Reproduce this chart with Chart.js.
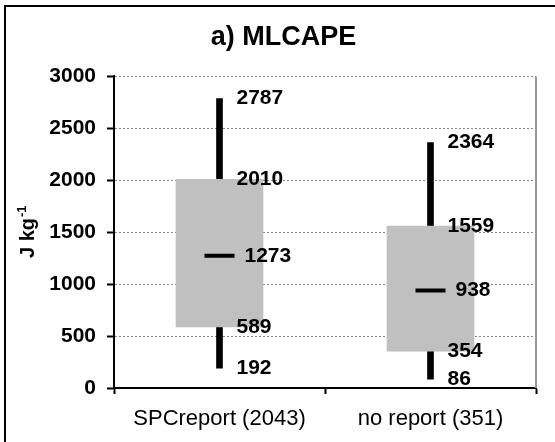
<!DOCTYPE html>
<html>
<head>
<meta charset="utf-8">
<script src="https://cdn.jsdelivr.net/npm/chart.js@4/dist/chart.umd.min.js"></script>
<style>
  body { margin: 0; background: #fff; }
  #wrap { position: relative; width: 555px; height: 442px; overflow: hidden; }
  #frame { position: absolute; left: 4px; top: 5px; width: 600px; height: 500px;
           border-left: 2px solid #000; border-top: 2px solid #000; pointer-events: none; }
  canvas { position: absolute; left: 0; top: 0; }
</style>
</head>
<body>
<div id="wrap">
  <canvas id="chart" width="555" height="442"></canvas>
  <div id="frame"></div>
</div>
<script>
// dữ liệu box plot
const categories = ['SPCreport (2043)', 'no report (351)'];
const minVals = [192, 86];
const q1Vals = [589, 354];
const medianVals = [1273, 938];
const q3Vals = [2010, 1559];
const maxVals = [2787, 2364];

const yMin = 0;
const yMax = 3000;
const yStep = 500;

const titleText = 'a) MLCAPE';
const yTitle = 'J kg';
const yTitleSup = '-1';

const FONT = 'Arial, "Liberation Sans", sans-serif';

// nhãn giá trị + trục y + khung bên phải
const labelPlugin = {
    id: 'boxLabels',
    afterDatasetsDraw(chart) {
        const { ctx, chartArea, scales: { x, y } } = chart;
        ctx.save();
        // đường viền phải vùng vẽ
        ctx.strokeStyle = '#999';
        ctx.lineWidth = 2;
        ctx.beginPath();
        ctx.moveTo(chartArea.right, chartArea.top);
        ctx.lineTo(chartArea.right, chartArea.bottom);
        ctx.stroke();

        ctx.fillStyle = '#000';
        ctx.font = 'bold 21px ' + FONT;
        ctx.textAlign = 'left';
        ctx.textBaseline = 'middle';
        categories.forEach((c, i) => {
            const cx = x.getPixelForValue(i);
            [maxVals[i], q3Vals[i], q1Vals[i], minVals[i]].forEach(v => {
                ctx.fillText(String(v), cx + 17, y.getPixelForValue(v));
            });
            ctx.fillText(String(medianVals[i]), cx + 25, y.getPixelForValue(medianVals[i]));
        });
        ctx.restore();
    },
    afterDraw(chart) {
        const { ctx, chartArea } = chart;
        const cy = (chartArea.top + chartArea.bottom) / 2;
        ctx.save();
        ctx.translate(34, cy);
        ctx.rotate(-Math.PI / 2);
        ctx.fillStyle = '#000';
        ctx.textBaseline = 'alphabetic';
        ctx.textAlign = 'left';
        ctx.font = 'bold 20px ' + FONT;
        const w1 = ctx.measureText(yTitle).width;
        ctx.font = 'bold 13px ' + FONT;
        const w2 = ctx.measureText(yTitleSup).width;
        const start = -(w1 + w2) / 2;
        ctx.font = 'bold 20px ' + FONT;
        ctx.fillText(yTitle, start, 0);
        ctx.font = 'bold 13px ' + FONT;
        ctx.fillText(yTitleSup, start + w1 + 1, -8);
        ctx.restore();
    }
};

new Chart(document.getElementById('chart'), {
    type: 'bar',
    data: {
        labels: categories,
        datasets: [
            {
                type: 'line',
                label: 'median',
                data: medianVals,
                showLine: false,
                pointStyle: 'line',
                pointRadius: 15,
                pointBorderWidth: 4,
                borderColor: '#000',
                backgroundColor: '#000',
                order: 0
            },
            {
                label: 'box',
                data: categories.map((c, i) => [q1Vals[i], q3Vals[i]]),
                backgroundColor: '#c0c0c0',
                borderWidth: 0,
                barThickness: 87,
                grouped: false,
                order: 1
            },
            {
                label: 'whisker',
                data: categories.map((c, i) => [minVals[i], maxVals[i]]),
                backgroundColor: '#000',
                borderWidth: 0,
                barThickness: 6,
                grouped: false,
                order: 2
            }
        ]
    },
    options: {
        responsive: false,
        animation: false,
        layout: { padding: { left: 25, right: 13, top: 21, bottom: 0 } },
        plugins: {
            legend: { display: false },
            tooltip: { enabled: false },
            title: {
                display: true,
                text: titleText,
                color: '#000',
                font: { family: FONT, size: 27, weight: 'bold' },
                padding: { top: 0, bottom: 23 }
            }
        },
        scales: {
            x: {
                offset: true,
                afterFit(scale) { scale.height = 54; },
                grid: {
                    offset: true,
                    drawOnChartArea: false,
                    drawTicks: true,
                    tickLength: 6,
                    tickColor: '#000',
                    tickWidth: 2
                },
                border: { color: '#000', width: 2 },
                ticks: {
                    color: '#000',
                    padding: 12,
                    font: { family: FONT, size: 22 }
                }
            },
            y: {
                min: yMin,
                max: yMax,
                afterFit(scale) { scale.width = 89; },
                grid: {
                    color: (c) => (c.tick && c.tick.value === 0) ? 'rgba(0,0,0,0)' : '#888',
                    lineWidth: 1,
                    tickLength: 7,
                    tickColor: '#000',
                    tickWidth: 2
                },
                border: { color: '#000', width: 2, dash: [2, 2] },
                ticks: {
                    stepSize: yStep,
                    color: '#000',
                    padding: 11,
                    font: { family: FONT, size: 21, weight: 'bold' },
                    callback: (v) => String(v)
                }
            }
        }
    },
    plugins: [labelPlugin]
});
</script>
</body>
</html>
